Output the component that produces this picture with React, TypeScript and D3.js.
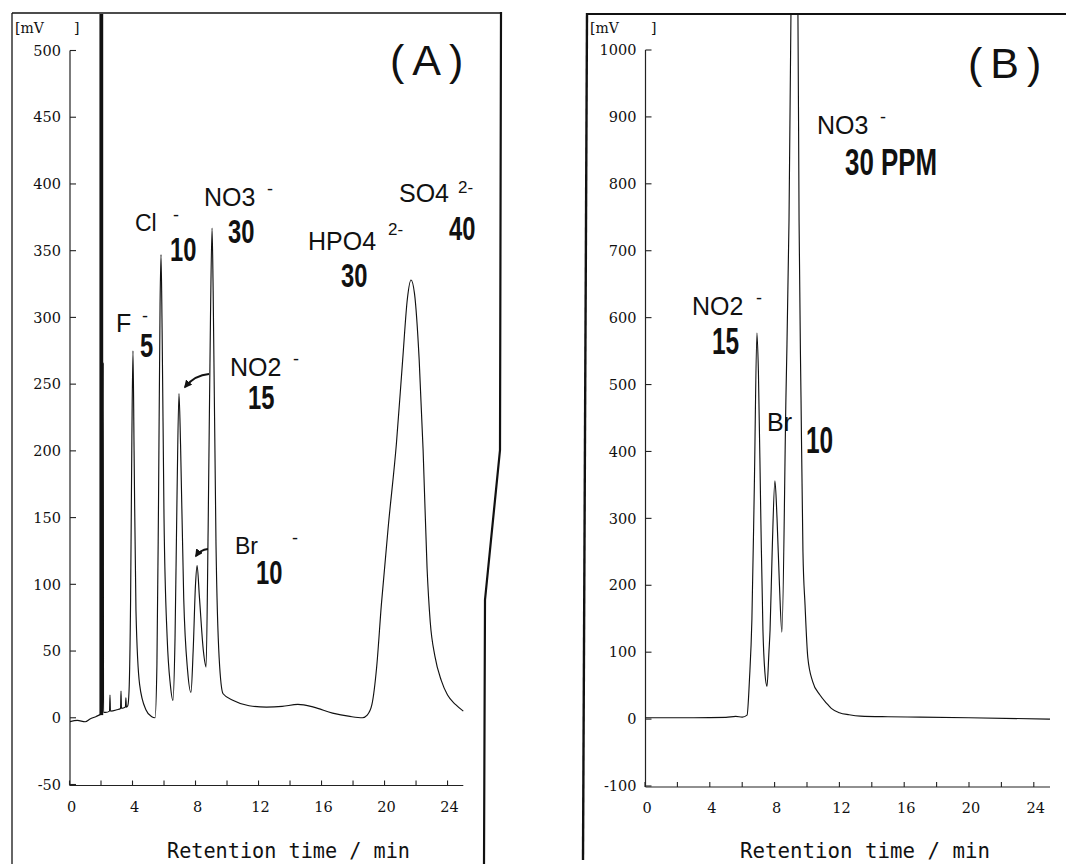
import React from "react";
import * as d3 from "d3";

const W = 1066;
const H = 864;

// retention time [min], signal [mV]
const traceA: [number, number][] = [
  [0, -3], [0.5, -2], [1.0, -3], [1.3, -1], [1.7, 1], [1.88, 2],
  [2.1, 3], [2.12, 3], [2.14, 266], [2.16, 4],
  [2.3, 4], [2.54, 5], [2.57, 17], [2.6, 5], [3.0, 6], [3.24, 7], [3.27, 20],
  [3.3, 7], [3.55, 8], [3.58, 15], [3.61, 8], [3.7, 9],
  [3.78, 20], [3.88, 90], [3.96, 210], [4.03, 275], [4.1, 200], [4.22, 80],
  [4.45, 25], [4.85, 6], [5.2, 1], [5.43, 0],
  [5.55, 40], [5.65, 160], [5.75, 310], [5.81, 347], [5.88, 290], [6.0, 150],
  [6.2, 60], [6.4, 25], [6.57, 13],
  [6.7, 60], [6.83, 170], [6.95, 243], [7.05, 205], [7.25, 90], [7.5, 35], [7.71, 19],
  [7.85, 50], [8.0, 100], [8.1, 114], [8.25, 90], [8.5, 50], [8.67, 38],
  [8.8, 140], [8.95, 300], [9.05, 367], [9.12, 320], [9.3, 130], [9.5, 45],
  [9.75, 18], [10.4, 13], [11.4, 9], [12.5, 8], [13.5, 8.5], [14.5, 10],
  [15.5, 8], [16.7, 3.5], [17.8, 1], [18.6, 0], [18.9, 2],
  [19.2, 10], [19.5, 38], [19.8, 85], [20.25, 145], [20.75, 205], [21.15, 268],
  [21.45, 314], [21.68, 328], [21.9, 318], [22.2, 268], [22.45, 200], [22.7, 112],
  [22.9, 72], [23.2, 46], [23.6, 28], [24.0, 17], [24.5, 10], [25, 5],
];

// solvent / injection front going off scale in (A)
const solventFrontA = { start: 1.9, end: 2.14, top: 560, base: 2 };

const traceB: [number, number][] = [
  [0, 2], [3, 2], [5, 2.5], [5.6, 4], [6.0, 3], [6.3, 6], [6.45, 60], [6.6, 150],
  [6.75, 350], [6.91, 577], [7.0, 520], [7.15, 300], [7.28, 133], [7.4, 70],
  [7.53, 49], [7.65, 100], [7.72, 133], [7.85, 250], [8.02, 356], [8.15, 300],
  [8.3, 200], [8.45, 130], [8.7, 481], [8.89, 746], [9.01, 1055], [9.2, 1300],
  [9.44, 1055], [9.51, 746], [9.63, 481], [9.75, 250], [9.88, 170], [10.05, 92],
  [10.35, 56], [10.8, 36], [11.2, 24], [11.5, 16], [12.0, 9.5], [12.6, 6.5],
  [13.3, 4.5], [15, 3.5], [17, 3], [20, 2], [25, 0],
];

const xTicks = [0, 2, 4, 6, 8, 10, 12, 14, 16, 18, 20, 22, 24];
const xTickLabels = [0, 4, 8, 12, 16, 20, 24];
const yTicksA = [-50, 0, 50, 100, 150, 200, 250, 300, 350, 400, 450, 500];
const yTicksB = [-100, 0, 100, 200, 300, 400, 500, 600, 700, 800, 900, 1000];

const serif = "DejaVu Serif, serif";
const sans = "Liberation Sans, Arial, sans-serif";
const mono = "DejaVu Sans Mono, monospace";

const Bold = ({ x, y, size = 33, sx = 0.72, children }: any) => (
  <text
    transform={`translate(${x},${y}) scale(${sx},1)`}
    fontFamily={sans}
    fontWeight="bold"
    fontSize={size}
    fill="#111"
  >
    {children}
  </text>
);

const Ion = ({ x, y, size = 25, children }: any) => (
  <text x={x} y={y} fontFamily={sans} fontSize={size} fill="#111">
    {children}
  </text>
);

const Charge = ({ x, y, size = 18, children }: any) => (
  <text x={x} y={y} fontFamily={sans} fontSize={size} fill="#111">
    {children}
  </text>
);

type PanelProps = {
  xs: d3.ScaleLinear<number, number>;
  ys: d3.ScaleLinear<number, number>;
  trace: [number, number][];
  yTicks: number[];
  id: string;
  clipTop: number;
};

const Panel = ({ xs, ys, trace, yTicks, id, clipTop }: PanelProps) => {
  const line = d3
    .line<[number, number]>()
    .x((d) => xs(d[0]))
    .y((d) => ys(d[1]))
    .curve(d3.curveMonotoneX);
  const [yMin, yMax] = ys.domain();
  const ax = xs(0) + 0.5;
  const ay = ys(yMin) + 1;
  return (
    <g>
      <defs>
        <clipPath id={id}>
          <rect x={ax} y={clipTop} width={xs(25) - ax + 2} height={ay - clipTop} />
        </clipPath>
      </defs>
      {/* y axis */}
      <line x1={ax} x2={ax} y1={ys(yMax)} y2={ay} stroke="#222" strokeWidth={1.2} />
      {yTicks.map((v) => (
        <g key={v}>
          <line x1={ax} x2={ax + 6} y1={ys(v)} y2={ys(v)} stroke="#222" strokeWidth={1.1} />
          <text
            x={ax - 9}
            y={ys(v)}
            dy="0.36em"
            textAnchor="end"
            fontFamily={serif}
            fontSize={14.5}
            fill="#111"
          >
            {v}
          </text>
        </g>
      ))}
      {/* x axis */}
      <line x1={ax} x2={xs(25)} y1={ay} y2={ay} stroke="#222" strokeWidth={1.2} />
      {xTicks.map((t) => (
        <line key={t} x1={xs(t)} x2={xs(t)} y1={ay} y2={ay - 5} stroke="#222" strokeWidth={1.1} />
      ))}
      {xTickLabels.map((t) => (
        <text
          key={t}
          x={xs(t) + 2}
          y={ay + 26}
          textAnchor="middle"
          fontFamily={serif}
          fontSize={14.5}
          fill="#111"
        >
          {t}
        </text>
      ))}
      <g clipPath={`url(#${id})`}>
        <path d={line(trace) || ""} fill="none" stroke="#111" strokeWidth={1.15} />
      </g>
    </g>
  );
};

export default function App() {
  const xA = d3.scaleLinear().domain([0, 25]).range([69.5, 463.3]);
  const yA = d3.scaleLinear().domain([-50, 500]).range([784.5, 50.5]);
  const xB = d3.scaleLinear().domain([0, 25]).range([645, 1050]);
  const yB = d3.scaleLinear().domain([-100, 1000]).range([786, 50]);

  return (
    <svg width={W} height={H} style={{ position: "absolute", left: 0, top: 0, background: "#fff" }}>
      <defs>
        <marker id="ah" viewBox="0 0 10 10" refX="8" refY="5" markerWidth="4" markerHeight="4" orient="auto">
          <path d="M0,0 L10,5 L0,10 z" fill="#111" />
        </marker>
      </defs>
      <rect width={W} height={H} fill="#fff" />

      {/* frames */}
      <line x1={12} x2={12} y1={13} y2={864} stroke="#666" strokeWidth={2} />
      <line x1={12} x2={501} y1={13} y2={13} stroke="#111" strokeWidth={1.6} />
      <polyline points="501,12 500,450 485,600 484,864" fill="none" stroke="#111" strokeWidth={2.2} />
      <line x1={587} x2={583} y1={13} y2={860} stroke="#111" strokeWidth={2.4} />
      <line x1={587} x2={1066} y1={14} y2={14} stroke="#111" strokeWidth={2} />

      {/* panel A */}
      <text x={15} y={33} fontFamily={serif} fontSize={14} fill="#111">[mV</text>
      <text x={74} y={33} fontFamily={serif} fontSize={14} fill="#111">]</text>
      <Panel xs={xA} ys={yA} trace={traceA} yTicks={yTicksA} id="clipA" clipTop={14} />
      <g clipPath="url(#clipA)">
        <rect
          x={xA(solventFrontA.start)}
          width={xA(solventFrontA.end) - xA(solventFrontA.start)}
          y={yA(solventFrontA.top)}
          height={yA(solventFrontA.base) - yA(solventFrontA.top)}
          fill="#111"
        />
      </g>
      <text x={390} y={75} fontFamily={sans} fontSize={43} letterSpacing={8} fill="#111">(A)</text>

      <Ion x={116} y={332}>F</Ion>
      <Charge x={142} y={322}>-</Charge>
      <Bold x={140} y={357}>5</Bold>
      <Ion x={135} y={231} size={23}>Cl</Ion>
      <Charge x={173} y={221}>-</Charge>
      <Bold x={170} y={261}>10</Bold>
      <Ion x={204} y={206}>NO3</Ion>
      <Charge x={267} y={195}>-</Charge>
      <Bold x={228} y={243}>30</Bold>
      <Ion x={230} y={376}>NO2</Ion>
      <Charge x={293} y={365}>-</Charge>
      <Bold x={248} y={409}>15</Bold>
      <path d="M209,374 Q195,375 185,387" fill="none" stroke="#111" strokeWidth={2} markerEnd="url(#ah)" />
      <Ion x={235} y={554} size={23}>Br</Ion>
      <Charge x={292} y={544}>-</Charge>
      <Bold x={256} y={584}>10</Bold>
      <path d="M208,549 Q200,550 196,556" fill="none" stroke="#111" strokeWidth={2} markerEnd="url(#ah)" />
      <Ion x={308} y={250}>HPO4</Ion>
      <Charge x={388} y={235} size={17}>2-</Charge>
      <Bold x={341} y={287}>30</Bold>
      <Ion x={399} y={202}>SO4</Ion>
      <Charge x={458} y={193} size={17}>2-</Charge>
      <Bold x={449} y={240}>40</Bold>

      <text x={167} y={858} fontFamily={mono} fontSize={22} textLength={243} lengthAdjust="spacingAndGlyphs" fill="#111">
        Retention time / min
      </text>

      {/* panel B */}
      <text x={590} y={33} fontFamily={serif} fontSize={14} fill="#111">[mV</text>
      <text x={651} y={33} fontFamily={serif} fontSize={14} fill="#111">]</text>
      <Panel xs={xB} ys={yB} trace={traceB} yTicks={yTicksB} id="clipB" clipTop={15} />
      <text x={968} y={78} fontFamily={sans} fontSize={43} letterSpacing={8} fill="#111">(B)</text>

      <Ion x={817} y={134}>NO3</Ion>
      <Charge x={880} y={123}>-</Charge>
      <Bold x={845} y={175} size={37} sx={0.7}>30 PPM</Bold>
      <Ion x={692} y={315}>NO2</Ion>
      <Charge x={756} y={304}>-</Charge>
      <Bold x={712} y={354} size={37} sx={0.66}>15</Bold>
      <Ion x={767} y={431}>Br</Ion>
      <Bold x={806} y={453} size={37} sx={0.66}>10</Bold>

      <text x={740} y={858} fontFamily={mono} fontSize={22} textLength={250} lengthAdjust="spacingAndGlyphs" fill="#111">
        Retention time / min
      </text>
    </svg>
  );
}
